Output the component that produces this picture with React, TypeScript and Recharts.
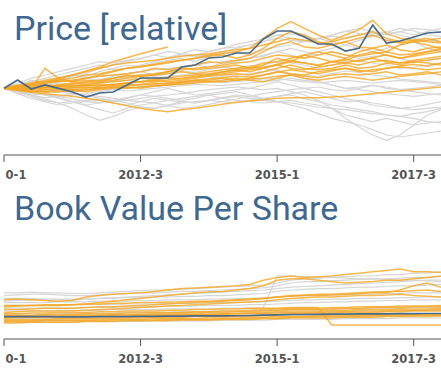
import React from 'react';
import { LineChart, Line, XAxis, YAxis } from 'recharts';

const quarters = [
  '2010-1', '2010-2', '2010-3', '2010-4', '2011-1', '2011-2', '2011-3', '2011-4',
  '2012-1', '2012-2', '2012-3', '2012-4', '2013-1', '2013-2', '2013-3', '2013-4',
  '2014-1', '2014-2', '2014-3', '2014-4', '2015-1', '2015-2', '2015-3', '2015-4',
  '2016-1', '2016-2', '2016-3', '2016-4', '2017-1', '2017-2', '2017-3', '2017-4',
  '2018-1',
];
const xTicks = ['2010-1', '2012-3', '2015-1', '2017-3'];

const priceTitle = 'Price [relative]';
const bookTitle = 'Book Value Per Share';

const priceHighlight = [
  1.0, 1.125, 0.99, 1.05, 1.0, 0.945, 0.87, 0.93, 0.945, 1.05, 1.155,
  1.155, 1.155, 1.32, 1.35, 1.455, 1.47, 1.53, 1.53, 1.74, 1.86, 1.86,
  1.77, 1.665, 1.665, 1.56, 1.6, 1.95, 1.68, 1.71, 1.77, 1.83, 1.845,
];

const priceOrange: (number | null)[][] = [
  [1.0, 1.03, 1.06, 1.1, 1.12, 1.15, 1.2, 1.22, 1.26, 1.3, 1.33,
    1.36, 1.4, 1.42, 1.45, 1.5, 1.52, 1.55, 1.6, 1.75, 1.9, 2.0,
    1.9, 1.8, 1.72, 1.8, 1.88, 2.02, 1.82, 1.75, 1.72, 1.7, 1.68],
  [1.0, 1.02, 1.06, 1.1, 1.14, 1.2, 1.26, 1.32, 1.4, 1.46, 1.52,
    1.57, 1.62, null, null, null, null, null, null, null, null, null,
    null, null, null, null, null, null, null, null, null, null, null],
  [1.0, 0.97, 0.94, 0.92, 0.9, 0.88, 0.85, 0.82, 0.78, 0.74, 0.7,
    0.67, 0.65, 0.68, 0.7, 0.73, 0.76, 0.79, 0.81, 0.83, 0.85, 0.86,
    0.86, 0.86, 0.87, 0.88, 0.9, 0.92, 0.94, 0.96, 0.98, 1.0, 1.02],
  [1, 1.03, 1.06, 1.02, 1.05, 1.08, 1.1, 1.12, 1.15, 1.18, 1.2,
    1.22, 1.25, 1.28, 1.3, 1.32, 1.35, 1.38, 1.4, 1.45, 1.5, 1.48,
    1.45, 1.5, 1.55, 1.5, 1.48, 1.52, 1.55, 1.5, 1.52, 1.55, 1.58],
  [1, 0.98, 1.0, 1.02, 1.0, 0.98, 1.0, 1.03, 1.05, 1.08, 1.1,
    1.1, 1.12, 1.15, 1.18, 1.2, 1.22, 1.25, 1.28, 1.3, 1.35, 1.4,
    1.38, 1.35, 1.4, 1.38, 1.42, 1.45, 1.4, 1.38, 1.42, 1.45, 1.48],
  [1, 1.05, 1.02, 1.08, 1.12, 1.1, 1.15, 1.18, 1.2, 1.22, 1.25,
    1.3, 1.28, 1.32, 1.35, 1.4, 1.38, 1.42, 1.45, 1.55, 1.65, 1.7,
    1.62, 1.6, 1.65, 1.7, 1.62, 1.6, 1.55, 1.65, 1.7, 1.72, 1.75],
  [1, 0.97, 0.95, 0.98, 1.0, 0.97, 0.95, 0.98, 1.0, 1.02, 1.0,
    1.03, 1.05, 1.08, 1.1, 1.12, 1.15, 1.12, 1.15, 1.2, 1.25, 1.22,
    1.2, 1.25, 1.28, 1.3, 1.25, 1.28, 1.3, 1.32, 1.3, 1.28, 1.3],
  [1, 1.02, 1.05, 1.08, 1.1, 1.12, 1.15, 1.2, 1.25, 1.3, 1.32,
    1.35, 1.38, 1.42, 1.45, 1.48, 1.5, 1.45, 1.5, 1.6, 1.75, 1.85,
    1.8, 1.7, 1.65, 1.7, 1.75, 1.8, 1.72, 1.68, 1.7, 1.65, 1.6],
  [1, 1.0, 0.98, 1.02, 1.05, 1.04, 1.06, 1.08, 1.1, 1.12, 1.15,
    1.14, 1.16, 1.18, 1.2, 1.22, 1.25, 1.28, 1.3, 1.32, 1.35, 1.3,
    1.28, 1.32, 1.35, 1.38, 1.35, 1.4, 1.42, 1.38, 1.4, 1.42, 1.45],
  [1, 1.02, 1.0, 1.3, 1.15, 1.1, 1.12, 1.1, 1.15, 1.2, 1.18,
    1.2, 1.25, 1.3, 1.28, 1.3, 1.32, 1.35, 1.3, 1.35, 1.45, 1.4,
    1.5, 1.45, 1.4, 1.42, 1.5, 1.55, 1.5, 1.45, 1.5, 1.55, 1.6],
  [1, 0.98, 0.96, 0.95, 0.97, 0.96, 0.98, 1.0, 1.02, 1.0, 1.02,
    1.04, 1.05, 1.06, 1.08, 1.1, 1.1, 1.12, 1.14, 1.15, 1.18, 1.2,
    1.18, 1.16, 1.2, 1.22, 1.2, 1.22, 1.25, 1.2, 1.22, 1.25, 1.2],
  [1, 1.04, 1.08, 1.12, 1.16, 1.2, 1.25, 1.3, 1.35, 1.38, 1.4,
    1.42, 1.45, 1.48, 1.5, 1.52, 1.55, 1.58, 1.6, 1.65, 1.7, 1.75,
    1.72, 1.68, 1.7, 1.75, 1.8, 1.85, 1.75, 1.7, 1.72, 1.75, 1.7],
  [1, 0.99, 1.01, 1.0, 1.02, 1.03, 1.05, 1.04, 1.06, 1.08, 1.1,
    1.12, 1.1, 1.12, 1.15, 1.18, 1.2, 1.22, 1.2, 1.25, 1.3, 1.35,
    1.3, 1.28, 1.3, 1.35, 1.3, 1.32, 1.38, 1.35, 1.4, 1.38, 1.35],
  [1, 1.01, 1.03, 1.05, 1.04, 1.06, 1.08, 1.1, 1.12, 1.15, 1.18,
    1.2, 1.22, 1.25, 1.22, 1.25, 1.28, 1.3, 1.32, 1.38, 1.4, 1.45,
    1.5, 1.55, 1.5, 1.45, 1.55, 1.6, 1.65, 1.58, 1.55, 1.6, 1.62],
  [1, 0.97, 0.96, 0.94, 0.95, 0.97, 0.98, 1.0, 1.02, 1.04, 1.05,
    1.06, 1.08, 1.1, 1.12, 1.1, 1.12, 1.15, 1.12, 1.1, 1.15, 1.2,
    1.15, 1.12, 1.15, 1.18, 1.15, 1.12, 1.15, 1.18, 1.2, 1.22, 1.25],
  [1, 1.01, 0.99, 1.02, 1.03, 1.01, 1.04, 1.06, 1.05, 1.08, 1.1,
    1.12, 1.15, 1.14, 1.17, 1.2, 1.24, 1.27, 1.25, 1.3, 1.36, 1.42,
    1.38, 1.34, 1.4, 1.44, 1.4, 1.46, 1.5, 1.45, 1.48, 1.52, 1.55],
  [1, 0.99, 1.0, 0.98, 0.99, 1.01, 1.02, 1.01, 1.03, 1.05, 1.06,
    1.08, 1.07, 1.09, 1.12, 1.14, 1.16, 1.18, 1.17, 1.2, 1.24, 1.28,
    1.25, 1.22, 1.26, 1.3, 1.27, 1.25, 1.3, 1.33, 1.36, 1.33, 1.38],
];

const priceGrey: number[][] = [
  [1, 0.95, 0.9, 0.86, 0.88, 0.92, 0.9, 0.85, 0.8, 0.82, 0.85,
    0.88, 0.9, 0.92, 0.95, 0.98, 1.0, 1.02, 1.0, 0.98, 1.0, 0.95,
    0.9, 0.82, 0.7, 0.55, 0.42, 0.3, 0.22, 0.3, 0.45, 0.6, 0.68],
  [1, 1.05, 1.1, 1.15, 1.2, 1.25, 1.3, 1.35, 1.28, 1.3, 1.35,
    1.4, 1.45, 1.5, 1.48, 1.5, 1.55, 1.6, 1.65, 1.7, 1.8, 1.75,
    1.7, 1.75, 1.8, 1.85, 1.9, 1.85, 1.8, 1.85, 1.9, 1.88, 1.85],
  [1, 0.92, 0.85, 0.8, 0.75, 0.78, 0.8, 0.82, 0.78, 0.75, 0.8,
    0.85, 0.82, 0.8, 0.78, 0.82, 0.85, 0.88, 0.85, 0.82, 0.8, 0.78,
    0.75, 0.72, 0.7, 0.6, 0.55, 0.5, 0.55, 0.5, 0.45, 0.48, 0.5],
  [1, 0.98, 0.95, 0.9, 0.85, 0.8, 0.75, 0.78, 0.8, 0.85, 0.9,
    0.95, 1.0, 0.95, 0.9, 0.92, 0.95, 0.98, 1.0, 1.05, 1.1, 1.05,
    1.0, 0.95, 0.9, 0.85, 0.8, 0.75, 0.72, 0.7, 0.68, 0.7, 0.72],
  [1, 1.02, 1.05, 1.1, 1.15, 1.2, 1.15, 1.12, 1.18, 1.22, 1.25,
    1.2, 1.25, 1.3, 1.35, 1.32, 1.38, 1.4, 1.45, 1.5, 1.55, 1.5,
    1.45, 1.55, 1.6, 1.65, 1.6, 1.55, 1.6, 1.65, 1.7, 1.6, 1.55],
  [1, 0.96, 0.92, 0.9, 0.88, 0.9, 0.92, 0.95, 0.98, 1.0, 1.02,
    1.05, 1.08, 1.1, 1.12, 1.15, 1.18, 1.2, 1.22, 1.25, 1.28, 1.2,
    1.15, 1.1, 1.05, 1.0, 1.02, 1.05, 1.0, 0.98, 0.95, 0.92, 0.9],
  [1, 1.03, 1.0, 0.97, 0.95, 0.92, 0.9, 0.88, 0.85, 0.82, 0.8,
    0.78, 0.82, 0.85, 0.88, 0.9, 0.85, 0.82, 0.8, 0.78, 0.8, 0.82,
    0.78, 0.75, 0.7, 0.68, 0.65, 0.62, 0.6, 0.58, 0.55, 0.5, 0.48],
  [1, 1.08, 1.15, 1.2, 1.25, 1.3, 1.35, 1.4, 1.38, 1.42, 1.45,
    1.5, 1.55, 1.52, 1.5, 1.55, 1.6, 1.62, 1.65, 1.7, 1.75, 1.72,
    1.7, 1.75, 1.78, 1.75, 1.8, 1.82, 1.85, 1.8, 1.75, 1.72, 1.7],
  [1, 0.99, 0.98, 0.96, 0.94, 0.95, 0.96, 0.98, 1.0, 1.01, 1.02,
    1.03, 1.05, 1.06, 1.08, 1.1, 1.09, 1.1, 1.12, 1.14, 1.15, 1.12,
    1.1, 1.08, 1.1, 1.12, 1.1, 1.08, 1.1, 1.12, 1.1, 1.08, 1.06],
  [1, 1.02, 1.04, 1.06, 1.1, 1.12, 1.15, 1.18, 1.2, 1.22, 1.25,
    1.28, 1.3, 1.32, 1.35, 1.38, 1.4, 1.42, 1.45, 1.48, 1.55, 1.6,
    1.55, 1.5, 1.55, 1.5, 1.45, 1.48, 1.5, 1.45, 1.4, 1.42, 1.45],
  [1, 0.94, 0.88, 0.82, 0.78, 0.8, 0.82, 0.85, 0.82, 0.78, 0.72,
    0.7, 0.74, 0.78, 0.8, 0.82, 0.8, 0.78, 0.82, 0.85, 0.88, 0.9,
    0.85, 0.8, 0.75, 0.72, 0.68, 0.65, 0.6, 0.58, 0.62, 0.65, 0.7],
  [1, 1.01, 1.0, 1.02, 1.04, 1.03, 1.05, 1.08, 1.1, 1.12, 1.1,
    1.15, 1.18, 1.2, 1.22, 1.2, 1.25, 1.28, 1.3, 1.35, 1.4, 1.38,
    1.35, 1.3, 1.35, 1.4, 1.42, 1.38, 1.35, 1.3, 1.32, 1.35, 1.38],
  [1, 0.97, 0.94, 0.96, 0.98, 1.0, 1.02, 1.0, 0.98, 0.96, 0.98,
    1.0, 1.02, 1.04, 1.06, 1.05, 1.04, 1.06, 1.08, 1.1, 1.12, 1.15,
    1.12, 1.1, 1.05, 1.0, 0.98, 0.95, 0.92, 0.9, 0.88, 0.9, 0.92],
  [1, 1.05, 1.12, 1.08, 1.15, 1.2, 1.18, 1.25, 1.3, 1.35, 1.32,
    1.38, 1.42, 1.45, 1.4, 1.48, 1.52, 1.55, 1.5, 1.58, 1.62, 1.65,
    1.7, 1.75, 1.7, 1.65, 1.72, 1.78, 1.82, 1.85, 1.8, 1.85, 1.9],
  [1, 0.95, 0.9, 0.92, 0.88, 0.84, 0.8, 0.78, 0.82, 0.86, 0.9,
    0.88, 0.85, 0.82, 0.85, 0.9, 0.92, 0.95, 0.9, 0.85, 0.8, 0.75,
    0.7, 0.62, 0.55, 0.5, 0.45, 0.38, 0.3, 0.27, 0.3, 0.33, 0.36],
  [1, 0.96, 0.9, 0.84, 0.78, 0.7, 0.6, 0.52, 0.58, 0.66, 0.72,
    0.7, 0.75, 0.8, 0.78, 0.82, 0.86, 0.9, 0.88, 0.84, 0.88, 0.92,
    0.95, 0.9, 0.85, 0.8, 0.82, 0.78, 0.75, 0.7, 0.72, 0.76, 0.8],
  [1, 1.0, 0.95, 0.9, 0.86, 0.8, 0.74, 0.68, 0.63, 0.7, 0.75,
    0.78, 0.74, 0.7, 0.72, 0.76, 0.8, 0.84, 0.88, 0.92, 0.95, 0.98,
    1.0, 1.02, 0.98, 0.96, 1.0, 1.04, 1.02, 0.98, 1.0, 1.02, 1.04],
  [1, 1.04, 1.1, 1.06, 1.12, 1.18, 1.22, 1.3, 1.36, 1.4, 1.44,
    1.5, 1.46, 1.52, 1.58, 1.55, 1.6, 1.66, 1.7, 1.74, 1.8, 1.82,
    1.78, 1.74, 1.8, 1.86, 1.82, 1.78, 1.84, 1.9, 1.86, 1.8, 1.78],
  [1, 1.02, 1.0, 1.04, 1.08, 1.06, 1.1, 1.14, 1.12, 1.16, 1.2,
    1.18, 1.22, 1.26, 1.24, 1.28, 1.32, 1.3, 1.34, 1.3, 1.26, 1.22,
    1.2, 1.18, 1.22, 1.26, 1.24, 1.2, 1.18, 1.14, 1.12, 1.1, 1.08],
];

const bookHighlight = [
  16, 16, 16, 16, 15.8, 15.8, 15.8, 16, 16, 16, 16.2,
  16.2, 16.3, 16.4, 16.5, 16.5, 16.5, 16.6, 16.8, 17, 17.2, 17.5,
  17.5, 17.6, 17.7, 17.8, 18, 18, 18, 18.1, 18.1, 18.2, 18.2,
];

const bookOrange: number[][] = [
  [28, 28.5, 28, 27.5, 27, 27.5, 30, 31, 32, 32.5, 33,
    34, 35, 36, 36.5, 37, 37.5, 38, 39, 42, 44, 45,
    44, 44.5, 45, 46, 47, 48, 49, 50, 48, 48, 47.5],
  [23, 23.5, 24, 24, 24, 24.5, 25, 26, 27, 28, 29,
    30, 31, 32, 33, 33.5, 34, 35, 36, 38, 42, 43,
    43, 42, 41, 40, 40.5, 41, 42, 42, 43, 44, 45],
  [21, 21, 21.5, 22, 22, 22, 22.5, 23, 23, 23.5, 24,
    24.5, 25, 25.5, 26, 26.5, 27, 27.5, 28, 29, 30, 31,
    31.5, 32, 32, 32.5, 33, 33.5, 34, 34, 34.5, 35, 34],
  [17, 17, 17, 17.5, 17.5, 17.5, 18, 18, 18, 18.5, 18.5,
    19, 19, 19, 19.5, 19.5, 20, 20, 20.5, 21, 21.5, 22,
    22, 22, 22.5, 22.5, 23, 23, 23, 23.5, 23.5, 23.5, 24],
  [14, 14, 14, 14, 14.5, 14.5, 14.5, 15, 15, 15, 15,
    15.5, 15.5, 15.5, 16, 16, 16, 16.5, 16.5, 17, 17.5, 18,
    18, 18.5, 18.5, 19, 19, 19, 19.5, 19.5, 20, 20, 20],
  [11.5, 11.5, 12, 12, 12, 12, 12.5, 12.5, 12.5, 13, 13,
    13, 13, 13.5, 13.5, 13.5, 14, 14, 14, 14.5, 14.5, 15,
    15, 15, 15, 15.5, 15.5, 15.5, 16, 16, 16, 16, 16.5],
  [18, 18, 18.5, 18.5, 19, 19, 19, 19.5, 19.5, 20, 20,
    20, 20.5, 20.5, 21, 21, 21.5, 21.5, 22, 22, 22, 22.5,
    22.5, 22.5, 10, 10, 10, 10, 10, 10, 10, 10, 10],
  [15, 15.5, 15.5, 15.5, 16, 16, 16, 16.5, 16.5, 16.5, 17,
    17, 17, 17.5, 17.5, 17.5, 18, 18, 18.5, 19, 19.5, 20,
    20, 20, 20.5, 20.5, 21, 21, 21, 21.5, 21.5, 21.5, 22],
  [19, 19.5, 20, 20, 20, 20, 20.5, 21, 21.5, 22, 22.5,
    23, 23.5, 24, 24.5, 25, 25.5, 26, 26.5, 27, 28, 29,
    29.5, 30, 30, 30.5, 31, 31, 31.5, 32, 31, 30.5, 30],
  [13, 13, 13, 13.5, 13.5, 13.5, 13.5, 14, 14, 14, 14,
    14.5, 14.5, 14.5, 14.5, 15, 15, 15, 15.5, 15.5, 16, 16,
    16, 16.5, 16.5, 16.5, 17, 17, 17, 17.5, 17.5, 17.5, 17.5],
  [16, 16, 16.5, 16.5, 16.5, 17, 17, 17, 17.5, 17.5, 17.5,
    18, 18, 18.5, 18.5, 19, 19, 19.5, 19.5, 20, 20.5, 21,
    21, 21, 21.5, 22, 22, 22.5, 22.5, 22.5, 23, 23, 23],
  [24, 24, 24, 24.5, 24.5, 24.5, 25, 25, 25.5, 25.5, 26,
    26, 26.5, 26.5, 27, 27, 27.5, 28, 28.5, 29, 30, 30.5,
    31, 31, 31.5, 32, 32.5, 33, 33, 35, 38, 40, 37],
  [15.5, 15.5, 15.5, 16, 16, 16, 16, 16.5, 16.5, 16.5, 16.5,
    17, 17, 17, 17.5, 17.5, 17.5, 18, 18, 18, 18.5, 19,
    19, 19, 19.5, 19.5, 20, 20, 20, 20.5, 20.5, 20.5, 21],
  [12.5, 12.5, 12.5, 13, 13, 13, 13, 13, 13.5, 13.5, 13.5,
    13.5, 14, 14, 14, 14, 14.5, 14.5, 14.5, 15, 15, 15.5,
    15.5, 15.5, 16, 16, 16, 16.5, 16.5, 16.5, 17, 17, 17],
];

const bookGrey: number[][] = [
  [31, 31.5, 32, 32, 31.5, 31, 31, 31.5, 32, 32.5, 33,
    33, 33.5, 34, 34, 34.5, 35, 35.5, 36, 36.5, 38, 40,
    41, 41, 41.5, 42, 42.5, 43, 43, 43.5, 44, 44, 44.5],
  [29, 29, 29, 28.5, 28.5, 28.5, 28.5, 29, 29, 29.5, 29.5,
    30, 30, 30.5, 30.5, 31, 31, 31.5, 32, 32.5, 34, 35,
    35.5, 36, 36, 36.5, 37, 37, 37.5, 38, 38, 38.5, 39],
  [26, 26, 26, 26, 26.5, 26.5, 26.5, 27, 27, 27, 27.5,
    27.5, 28, 28, 28, 28.5, 28.5, 29, 29, 29.5, 30, 30.5,
    31, 31, 31.5, 31.5, 32, 32, 32.5, 32.5, 33, 33, 33],
  [22, 22, 22, 22, 22, 22, 22.5, 22.5, 22.5, 23, 23,
    23, 23.5, 23.5, 23.5, 24, 24, 24, 24.5, 24.5, 25, 25.5,
    26, 26, 26.5, 26.5, 27, 27, 27.5, 27.5, 28, 28, 28],
  [20, 20, 20, 20, 20.5, 20.5, 20.5, 20.5, 21, 21, 21,
    21, 21.5, 21.5, 21.5, 21.5, 22, 22, 22, 22.5, 45, 45,
    44.5, 44, 44, 43.5, 43, 43, 42.5, 42, 42, 41.5, 41],
  [18, 18, 18, 18, 18, 18.5, 18.5, 18.5, 18.5, 19, 19,
    19, 19, 19.5, 19.5, 19.5, 20, 20, 20, 20.5, 20.5, 21,
    21, 21, 21.5, 21.5, 21.5, 22, 22, 22, 22.5, 22.5, 22.5],
  [16.5, 16.5, 16.5, 16.5, 17, 17, 17, 17, 17, 17.5, 17.5,
    17.5, 17.5, 18, 18, 18, 18, 18.5, 18.5, 18.5, 19, 19,
    19, 19.5, 19.5, 19.5, 20, 20, 20, 20, 20.5, 20.5, 20.5],
  [14.5, 14.5, 14.5, 14.5, 14.5, 15, 15, 15, 15, 15, 15.5,
    15.5, 15.5, 15.5, 16, 16, 16, 16, 16.5, 16.5, 16.5, 17,
    17, 17, 17, 17.5, 17.5, 17.5, 17.5, 18, 18, 18, 18],
  [12, 12, 12, 12, 12, 12, 12.5, 12.5, 12.5, 12.5, 12.5,
    13, 13, 13, 13, 13, 13.5, 13.5, 13.5, 13.5, 14, 14,
    14, 14, 14, 14.5, 14.5, 14.5, 14.5, 15, 15, 15, 15],
  [27, 27.5, 28, 28, 28, 28, 28.5, 29, 29.5, 30, 30.5,
    31, 31.5, 32, 32.5, 33, 33.5, 34, 34.5, 35, 36, 37,
    37.5, 38, 38.5, 39, 39.5, 40, 40.5, 41, 41.5, 42, 42],
  [24, 24, 24, 24, 24, 24.5, 24.5, 24.5, 24.5, 25, 25,
    25, 25.5, 25.5, 25.5, 26, 26, 26, 26.5, 26.5, 27, 27.5,
    28, 28, 28.5, 28.5, 29, 29, 29, 29.5, 29.5, 30, 30],
  [33, 33, 33.5, 33, 33, 32.5, 32.5, 33, 33.5, 34, 34.5,
    35, 35, 35.5, 36, 36.5, 37, 37.5, 38, 38.5, 40, 42,
    43, 43.5, 44, 44.5, 45, 45, 46, 46, 47, 47, 48],
];

const PRICE_DOMAIN: [number, number] = [0, 2.1];
const BOOK_DOMAIN: [number, number] = [0, 100];

function buildRows(h: number[], o: (number | null)[][], g: number[][]) {
  return quarters.map((q, i) => {
    const row: Record<string, any> = { q, h: h[i] };
    o.forEach((s, k) => { row['o' + k] = s[i]; });
    g.forEach((s, k) => { row['g' + k] = s[i]; });
    return row;
  });
}

const ORANGE = '#f5a623';
const GREY = '#d6d6d6';
const DARK = '#4a6a88';
const AXIS = '#555';
const TITLE = '#3f6890';

function Panel(props: { rows: any[]; nO: number; nG: number; domain: [number, number]; top: number }) {
  const { rows, nO, nG, domain, top } = props;
  return (
    <div style={{ position: 'absolute', left: 0, top }}>
      <LineChart width={460} height={185} data={rows} margin={{ top: 15, right: 19, bottom: 0, left: 4 }}>
        <XAxis
          dataKey="q"
          ticks={xTicks}
          interval={0}
          tickSize={7}
          tickMargin={9}
          height={30}
          axisLine={{ stroke: AXIS }}
          tickLine={{ stroke: AXIS }}
          tick={{ fill: '#555', fontSize: 11.5, fontWeight: 'bold', fontFamily: 'DejaVu Sans, sans-serif' }}
        />
        <YAxis domain={domain} width={0} tick={false} tickLine={false} axisLine={{ stroke: AXIS }} allowDataOverflow />
        {Array.from({ length: nG }).map((_, k) => (
          <Line key={'g' + k} dataKey={'g' + k} stroke={GREY} strokeWidth={1.2} dot={false} isAnimationActive={false} />
        ))}
        {Array.from({ length: nO }).map((_, k) => (
          <Line key={'o' + k} dataKey={'o' + k} stroke={ORANGE} strokeOpacity={0.8} strokeWidth={1.5} dot={false} isAnimationActive={false} />
        ))}
        <Line dataKey="h" stroke={DARK} strokeWidth={1.7} dot={false} isAnimationActive={false} />
      </LineChart>
    </div>
  );
}

export default function App() {
  const priceRows = buildRows(priceHighlight, priceOrange, priceGrey);
  const bookRows = buildRows(bookHighlight, bookOrange, bookGrey);
  return (
    <div style={{ position: 'fixed', left: 0, top: 0, width: 441, height: 370, overflow: 'hidden', background: '#fff' }}>
      <Panel rows={priceRows} nO={priceOrange.length} nG={priceGrey.length} domain={PRICE_DOMAIN} top={0} />
      <Panel rows={bookRows} nO={bookOrange.length} nG={bookGrey.length} domain={BOOK_DOMAIN} top={184} />
      <svg width={441} height={370} style={{ position: 'absolute', left: 0, top: 0, pointerEvents: 'none' }}>
        <rect x={0} y={164} width={5} height={20} fill="#fff" />
        <rect x={0} y={348} width={5} height={22} fill="#fff" />
        <text x={14} y={40} fontSize={34} fontFamily="Roboto, sans-serif" fill={TITLE}>{priceTitle}</text>
        <text x={14} y={220} fontSize={34} fontFamily="Roboto, sans-serif" fill={TITLE}>{bookTitle}</text>
      </svg>
    </div>
  );
}
